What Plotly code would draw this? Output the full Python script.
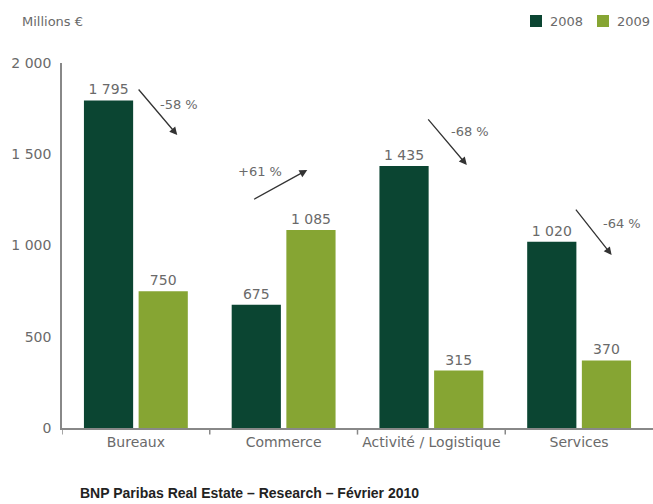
import plotly.graph_objects as go

# Investment volumes by sector (millions of euros)
categories = ["Bureaux", "Commerce", "Activité / Logistique", "Services"]
years = ["2008", "2009"]
values_2008 = [1795, 675, 1435, 1020]
values_2009 = [750, 1085, 315, 370]
change_labels = ["-58 %", "+61 %", "-68 %", "-64 %"]
y_ticks = [0, 500, 1000, 1500, 2000]
y_tick_labels = ["0", "500", "1 000", "1 500", "2 000"]

DARK = "#0b4532"
LIGHT = "#86a533"
TEXT = "#6a6a6a"
FONT = "DejaVu Sans"

W, H = 653, 504
ML, MR, MT, MB = 62, 0, 63, 76
PW, PH = W - ML - MR, H - MT - MB


def fmt(v):
    return f"{v:,}".replace(",", " ")


def px_x(p):
    return (p - ML) / PW


def px_y(p):
    return 1 - (p - MT) / PH


fig = go.Figure()
colors = [DARK, LIGHT]
for name, vals, col in zip(years, [values_2008, values_2009], colors):
    fig.add_trace(go.Bar(
        name=name,
        x=list(range(len(categories))),
        y=vals,
        marker=dict(color=col, line=dict(width=0)),
        text=[fmt(v) for v in vals],
        textposition="outside",
        cliponaxis=False,
        textfont=dict(family=FONT, size=14, color=TEXT),
        showlegend=False,
    ))

# Arrow geometry per category: (tail dx, tail y, head dx, head y, label dx, label y)
arrow_geom = [
    (0.01, 1863, 0.28, 1605, 0.29, 1770),
    (-0.21, 1249, 0.16, 1414, -0.16, 1403),
    (-0.03, 1699, 0.24, 1441, 0.26, 1622),
    (-0.03, 1205, 0.22, 948, 0.29, 1123),
]
annotations = []
for i, (lab, g) in enumerate(zip(change_labels, arrow_geom)):
    tx, ty, hx, hy, lx, ly = g
    annotations.append(dict(
        x=i + hx, y=hy, ax=i + tx, ay=ty, xref="x", yref="y", axref="x", ayref="y",
        text="", showarrow=True, arrowhead=2, arrowsize=1.2, arrowwidth=1.3,
        arrowcolor="#333333", standoff=0,
    ))
    annotations.append(dict(
        x=i + lx, y=ly, xref="x", yref="y", text=lab, showarrow=False,
        font=dict(family=FONT, size=13, color=TEXT),
    ))

annotations.append(dict(
    x=px_x(20), y=px_y(22), xref="paper", yref="paper", text="Millions €", showarrow=False,
    xanchor="left", yanchor="middle", font=dict(family=FONT, size=13, color=TEXT),
))
annotations.append(dict(
    x=px_x(78), y=px_y(493), xref="paper", yref="paper",
    text="BNP Paribas Real Estate – Research – Février 2010",
    showarrow=False, xanchor="left", yanchor="middle",
    font=dict(family="Liberation Sans", size=14, color="#222222", weight="bold"),
))

# legend: coloured squares with the year beside each
shapes = []
legend_x = [530, 597]
for year, col, lx in zip(years, colors, legend_x):
    shapes.append(dict(type="rect", xref="paper", yref="paper",
                       x0=px_x(lx), x1=px_x(lx + 12), y0=px_y(27), y1=px_y(15),
                       fillcolor=col, line=dict(width=0)))
    annotations.append(dict(
        x=px_x(lx + 18), y=px_y(21), xref="paper", yref="paper", text=year,
        showarrow=False, xanchor="left", yanchor="middle",
        font=dict(family=FONT, size=13, color=TEXT),
    ))

# tick marks separating the categories on the baseline
for b in [-0.5, 0.5, 1.5, 2.5]:
    shapes.append(dict(type="line", xref="x", yref="paper", x0=b, x1=b, y0=0, y1=-0.018,
                       line=dict(color="#888888", width=1.5)))

fig.update_layout(
    width=W, height=H,
    margin=dict(l=ML, r=MR, t=MT, b=MB, autoexpand=False),
    paper_bgcolor="white", plot_bgcolor="white",
    barmode="group", bargap=0.26, bargroupgap=0.1,
    annotations=annotations,
    shapes=shapes,
    showlegend=False,
    xaxis=dict(
        tickmode="array", tickvals=list(range(len(categories))), ticktext=categories,
        range=[-0.5, 3.5], showgrid=False, zeroline=False,
        showline=True, linecolor="#888888", linewidth=1.5,
        ticks="", tickfont=dict(family=FONT, size=14, color=TEXT),
    ),
    yaxis=dict(
        range=[0, 2000], tickvals=y_ticks, ticktext=y_tick_labels,
        showgrid=False, zeroline=False, showline=True, linecolor="#888888", linewidth=1.5,
        ticks="", ticklabelstandoff=6, tickfont=dict(family=FONT, size=14, color=TEXT),
    ),
)

fig.write_html("out.html")
